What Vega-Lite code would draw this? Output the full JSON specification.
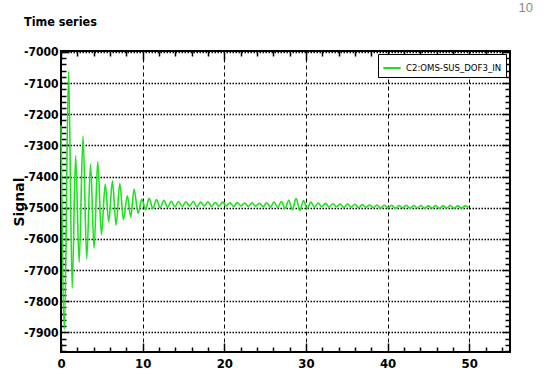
{
  "$schema": "https://vega.github.io/schema/vega-lite/v6.json",
  "autosize": "none",
  "width": 449,
  "height": 301,
  "padding": {"left": 61, "top": 51, "right": 46, "bottom": 22},
  "background": "white",
  "title": {
    "text": "Time series",
    "anchor": "start",
    "frame": "group",
    "dx": -37,
    "offset": 0,
    "dy": 27,
    "font": "DejaVu Sans Condensed",
    "fontSize": 12.5,
    "fontWeight": "bold",
    "color": "black"
  },
  "config": {
    "view": {"stroke": "black", "strokeWidth": 2},
    "axis": {
      "labelFont": "DejaVu Sans Condensed",
      "labelFontSize": 13,
      "labelFontWeight": "bold",
      "labelColor": "black",
      "tickColor": "black",
      "tickWidth": 1.5,
      "domain": false,
      "labelFlush": false,
      "labelOverlap": false,
      "format": "d"
    }
  },
  "data": {
    "values": [
      {"t": 0.0, "v": -7235}, {"t": 0.42, "v": -7890}, {"t": 0.93, "v": -7062}, {"t": 1.37, "v": -7758},
      {"t": 1.79, "v": -7333}, {"t": 2.22, "v": -7675}, {"t": 2.7, "v": -7270}, {"t": 3.15, "v": -7664},
      {"t": 3.62, "v": -7360}, {"t": 4.05, "v": -7630}, {"t": 4.5, "v": -7352}, {"t": 4.95, "v": -7587},
      {"t": 5.42, "v": -7424}, {"t": 5.85, "v": -7545}, {"t": 6.3, "v": -7414}, {"t": 6.75, "v": -7556},
      {"t": 7.2, "v": -7422}, {"t": 7.65, "v": -7538}, {"t": 8.12, "v": -7462}, {"t": 8.55, "v": -7530},
      {"t": 8.95, "v": -7440}, {"t": 9.45, "v": -7518}, {"t": 9.9, "v": -7472}, {"t": 10.35, "v": -7506},
      {"t": 10.8, "v": -7470}, {"t": 11.25, "v": -7503}, {"t": 11.7, "v": -7474}, {"t": 12.15, "v": -7500},
      {"t": 12.6, "v": -7476}, {"t": 13.05, "v": -7499}, {"t": 13.5, "v": -7479}, {"t": 13.95, "v": -7497},
      {"t": 14.4, "v": -7480}, {"t": 14.85, "v": -7496}, {"t": 15.3, "v": -7481}, {"t": 15.75, "v": -7495},
      {"t": 16.2, "v": -7480}, {"t": 16.65, "v": -7497}, {"t": 17.1, "v": -7482}, {"t": 17.55, "v": -7494},
      {"t": 18.0, "v": -7481}, {"t": 18.45, "v": -7496}, {"t": 18.9, "v": -7483}, {"t": 19.35, "v": -7495},
      {"t": 19.8, "v": -7482}, {"t": 20.25, "v": -7494}, {"t": 20.7, "v": -7484}, {"t": 21.15, "v": -7496},
      {"t": 21.6, "v": -7483}, {"t": 22.05, "v": -7494}, {"t": 22.5, "v": -7485}, {"t": 22.95, "v": -7496},
      {"t": 23.4, "v": -7484}, {"t": 23.85, "v": -7495}, {"t": 24.3, "v": -7486}, {"t": 24.75, "v": -7497},
      {"t": 25.2, "v": -7484}, {"t": 25.65, "v": -7498}, {"t": 26.1, "v": -7482}, {"t": 26.55, "v": -7499},
      {"t": 27.0, "v": -7480}, {"t": 27.45, "v": -7502}, {"t": 27.9, "v": -7476}, {"t": 28.35, "v": -7506},
      {"t": 28.8, "v": -7470}, {"t": 29.25, "v": -7509}, {"t": 29.7, "v": -7477}, {"t": 30.15, "v": -7503},
      {"t": 30.6, "v": -7482}, {"t": 31.05, "v": -7498}, {"t": 31.5, "v": -7485}, {"t": 31.95, "v": -7497},
      {"t": 32.4, "v": -7486}, {"t": 32.85, "v": -7498}, {"t": 33.3, "v": -7487}, {"t": 33.75, "v": -7497},
      {"t": 34.2, "v": -7488}, {"t": 34.65, "v": -7499}, {"t": 35.1, "v": -7488}, {"t": 35.55, "v": -7498},
      {"t": 36.0, "v": -7489}, {"t": 36.45, "v": -7500}, {"t": 36.9, "v": -7490}, {"t": 37.35, "v": -7499},
      {"t": 37.8, "v": -7491}, {"t": 38.25, "v": -7500}, {"t": 38.7, "v": -7491}, {"t": 39.15, "v": -7501},
      {"t": 39.6, "v": -7492}, {"t": 40.05, "v": -7501}, {"t": 40.5, "v": -7492}, {"t": 40.95, "v": -7502},
      {"t": 41.4, "v": -7493}, {"t": 41.85, "v": -7501}, {"t": 42.3, "v": -7492}, {"t": 42.75, "v": -7502},
      {"t": 43.2, "v": -7493}, {"t": 43.65, "v": -7501}, {"t": 44.1, "v": -7493}, {"t": 44.55, "v": -7502},
      {"t": 45.0, "v": -7494}, {"t": 45.45, "v": -7501}, {"t": 45.9, "v": -7493}, {"t": 46.35, "v": -7502},
      {"t": 46.8, "v": -7494}, {"t": 47.25, "v": -7501}, {"t": 47.7, "v": -7493}, {"t": 48.15, "v": -7502},
      {"t": 48.6, "v": -7494}, {"t": 49.05, "v": -7501}, {"t": 49.5, "v": -7494}, {"t": 49.95, "v": -7499}
    ]
  },
  "resolve": {"axis": {"x": "independent", "y": "independent"}},
  "layer": [
    {
      "mark": {"type": "line", "opacity": 0},
      "encoding": {
        "x": {"field": "t", "type": "quantitative", "scale": {"domain": [0, 55], "nice": false, "zero": false},
          "axis": {"orient": "bottom", "values": [2,4,6,8,12,14,16,18,22,24,26,28,32,34,36,38,42,44,46,48,52,54], "tickSize": -5, "labels": false, "grid": false, "title": null}},
        "y": {"field": "v", "type": "quantitative", "scale": {"domain": [-7963, -6997], "nice": false, "zero": false},
          "axis": {"orient": "left", "values": [-7960,-7940,-7920,-7880,-7860,-7840,-7820,-7780,-7760,-7740,-7720,-7680,-7660,-7640,-7620,-7580,-7560,-7540,-7520,-7480,-7460,-7440,-7420,-7380,-7360,-7340,-7320,-7280,-7260,-7240,-7220,-7180,-7160,-7140,-7120,-7080,-7060,-7040,-7020], "tickSize": -5, "labels": false, "grid": false, "title": null}}
      }
    },
    {
      "mark": {"type": "line", "opacity": 0},
      "encoding": {
        "x": {"field": "t", "type": "quantitative", "scale": {"domain": [0, 55], "nice": false, "zero": false},
          "axis": {"orient": "top", "values": [2,4,6,8,12,14,16,18,22,24,26,28,32,34,36,38,42,44,46,48,52,54], "tickSize": -5, "labels": false, "grid": false, "title": null}},
        "y": {"field": "v", "type": "quantitative", "scale": {"domain": [-7963, -6997], "nice": false, "zero": false},
          "axis": {"orient": "right", "values": [-7960,-7940,-7920,-7880,-7860,-7840,-7820,-7780,-7760,-7740,-7720,-7680,-7660,-7640,-7620,-7580,-7560,-7540,-7520,-7480,-7460,-7440,-7420,-7380,-7360,-7340,-7320,-7280,-7260,-7240,-7220,-7180,-7160,-7140,-7120,-7080,-7060,-7040,-7020], "tickSize": -5, "labels": false, "grid": false, "title": null}}
      }
    },
    {
      "mark": {"type": "line", "opacity": 0},
      "encoding": {
        "x": {"field": "t", "type": "quantitative", "scale": {"domain": [0, 55], "nice": false, "zero": false},
          "axis": {"orient": "top", "values": [0,10,20,30,40,50], "tickSize": -9, "labels": false, "grid": false,
            "title": "10", "titleX": 457, "titleY": -40, "titleAlign": "left", "titleBaseline": "alphabetic", "titleAngle": 0,
            "titleColor": "#8a8a8a", "titleFont": "Liberation Sans", "titleFontSize": 13, "titleFontWeight": "normal"}},
        "y": {"field": "v", "type": "quantitative", "scale": {"domain": [-7963, -6997], "nice": false, "zero": false},
          "axis": {"orient": "right", "values": [-7900,-7800,-7700,-7600,-7500,-7400,-7300,-7200,-7100,-7000], "tickSize": -8, "labels": false, "grid": false, "title": null}}
      }
    },
    {
      "mark": {"type": "line", "color": "#1fe01f", "strokeWidth": 1.6, "interpolate": "monotone"},
      "encoding": {
        "x": {"field": "t", "type": "quantitative", "scale": {"domain": [0, 55], "nice": false, "zero": false},
          "axis": {"orient": "bottom", "values": [0,10,20,30,40,50], "tickSize": -9, "labelPadding": 14,
            "grid": true, "gridColor": "black", "gridDash": [4, 3], "gridWidth": 1, "gridOpacity": 1, "title": null}},
        "y": {"field": "v", "type": "quantitative", "scale": {"domain": [-7963, -6997], "nice": false, "zero": false},
          "axis": {"orient": "left", "values": [-7900,-7800,-7700,-7600,-7500,-7400,-7300,-7200,-7100,-7000], "tickSize": -8, "labelPadding": 11,
            "labelFontSize": 12, "labelExpr": "'-' + (-datum.value)",
            "grid": true, "gridColor": "black", "gridDash": [1.5, 1.5], "gridWidth": 1.5, "gridOpacity": 1,
            "title": "Signal", "titleFont": "DejaVu Sans", "titleFontSize": 14, "titleFontWeight": "bold", "titleColor": "black",
            "titleX": -42, "titleY": 150.5, "titleBaseline": "middle", "titleAlign": "center", "titleAngle": -90}},
        "color": {"datum": "C2:OMS-SUS_DOF3_IN", "type": "nominal", "scale": {"range": ["#1fe01f"]},
          "legend": {"orient": "none", "legendX": 317, "legendY": 3, "title": null, "symbolType": "stroke", "symbolStrokeWidth": 2,
            "symbolSize": 300, "labelFont": "DejaVu Sans Condensed", "labelFontSize": 9.5,
            "labelColor": "black", "fillColor": "white", "strokeColor": "black", "padding": 4, "cornerRadius": 0, "labelLimit": 200}}
      }
    }
  ]
}
